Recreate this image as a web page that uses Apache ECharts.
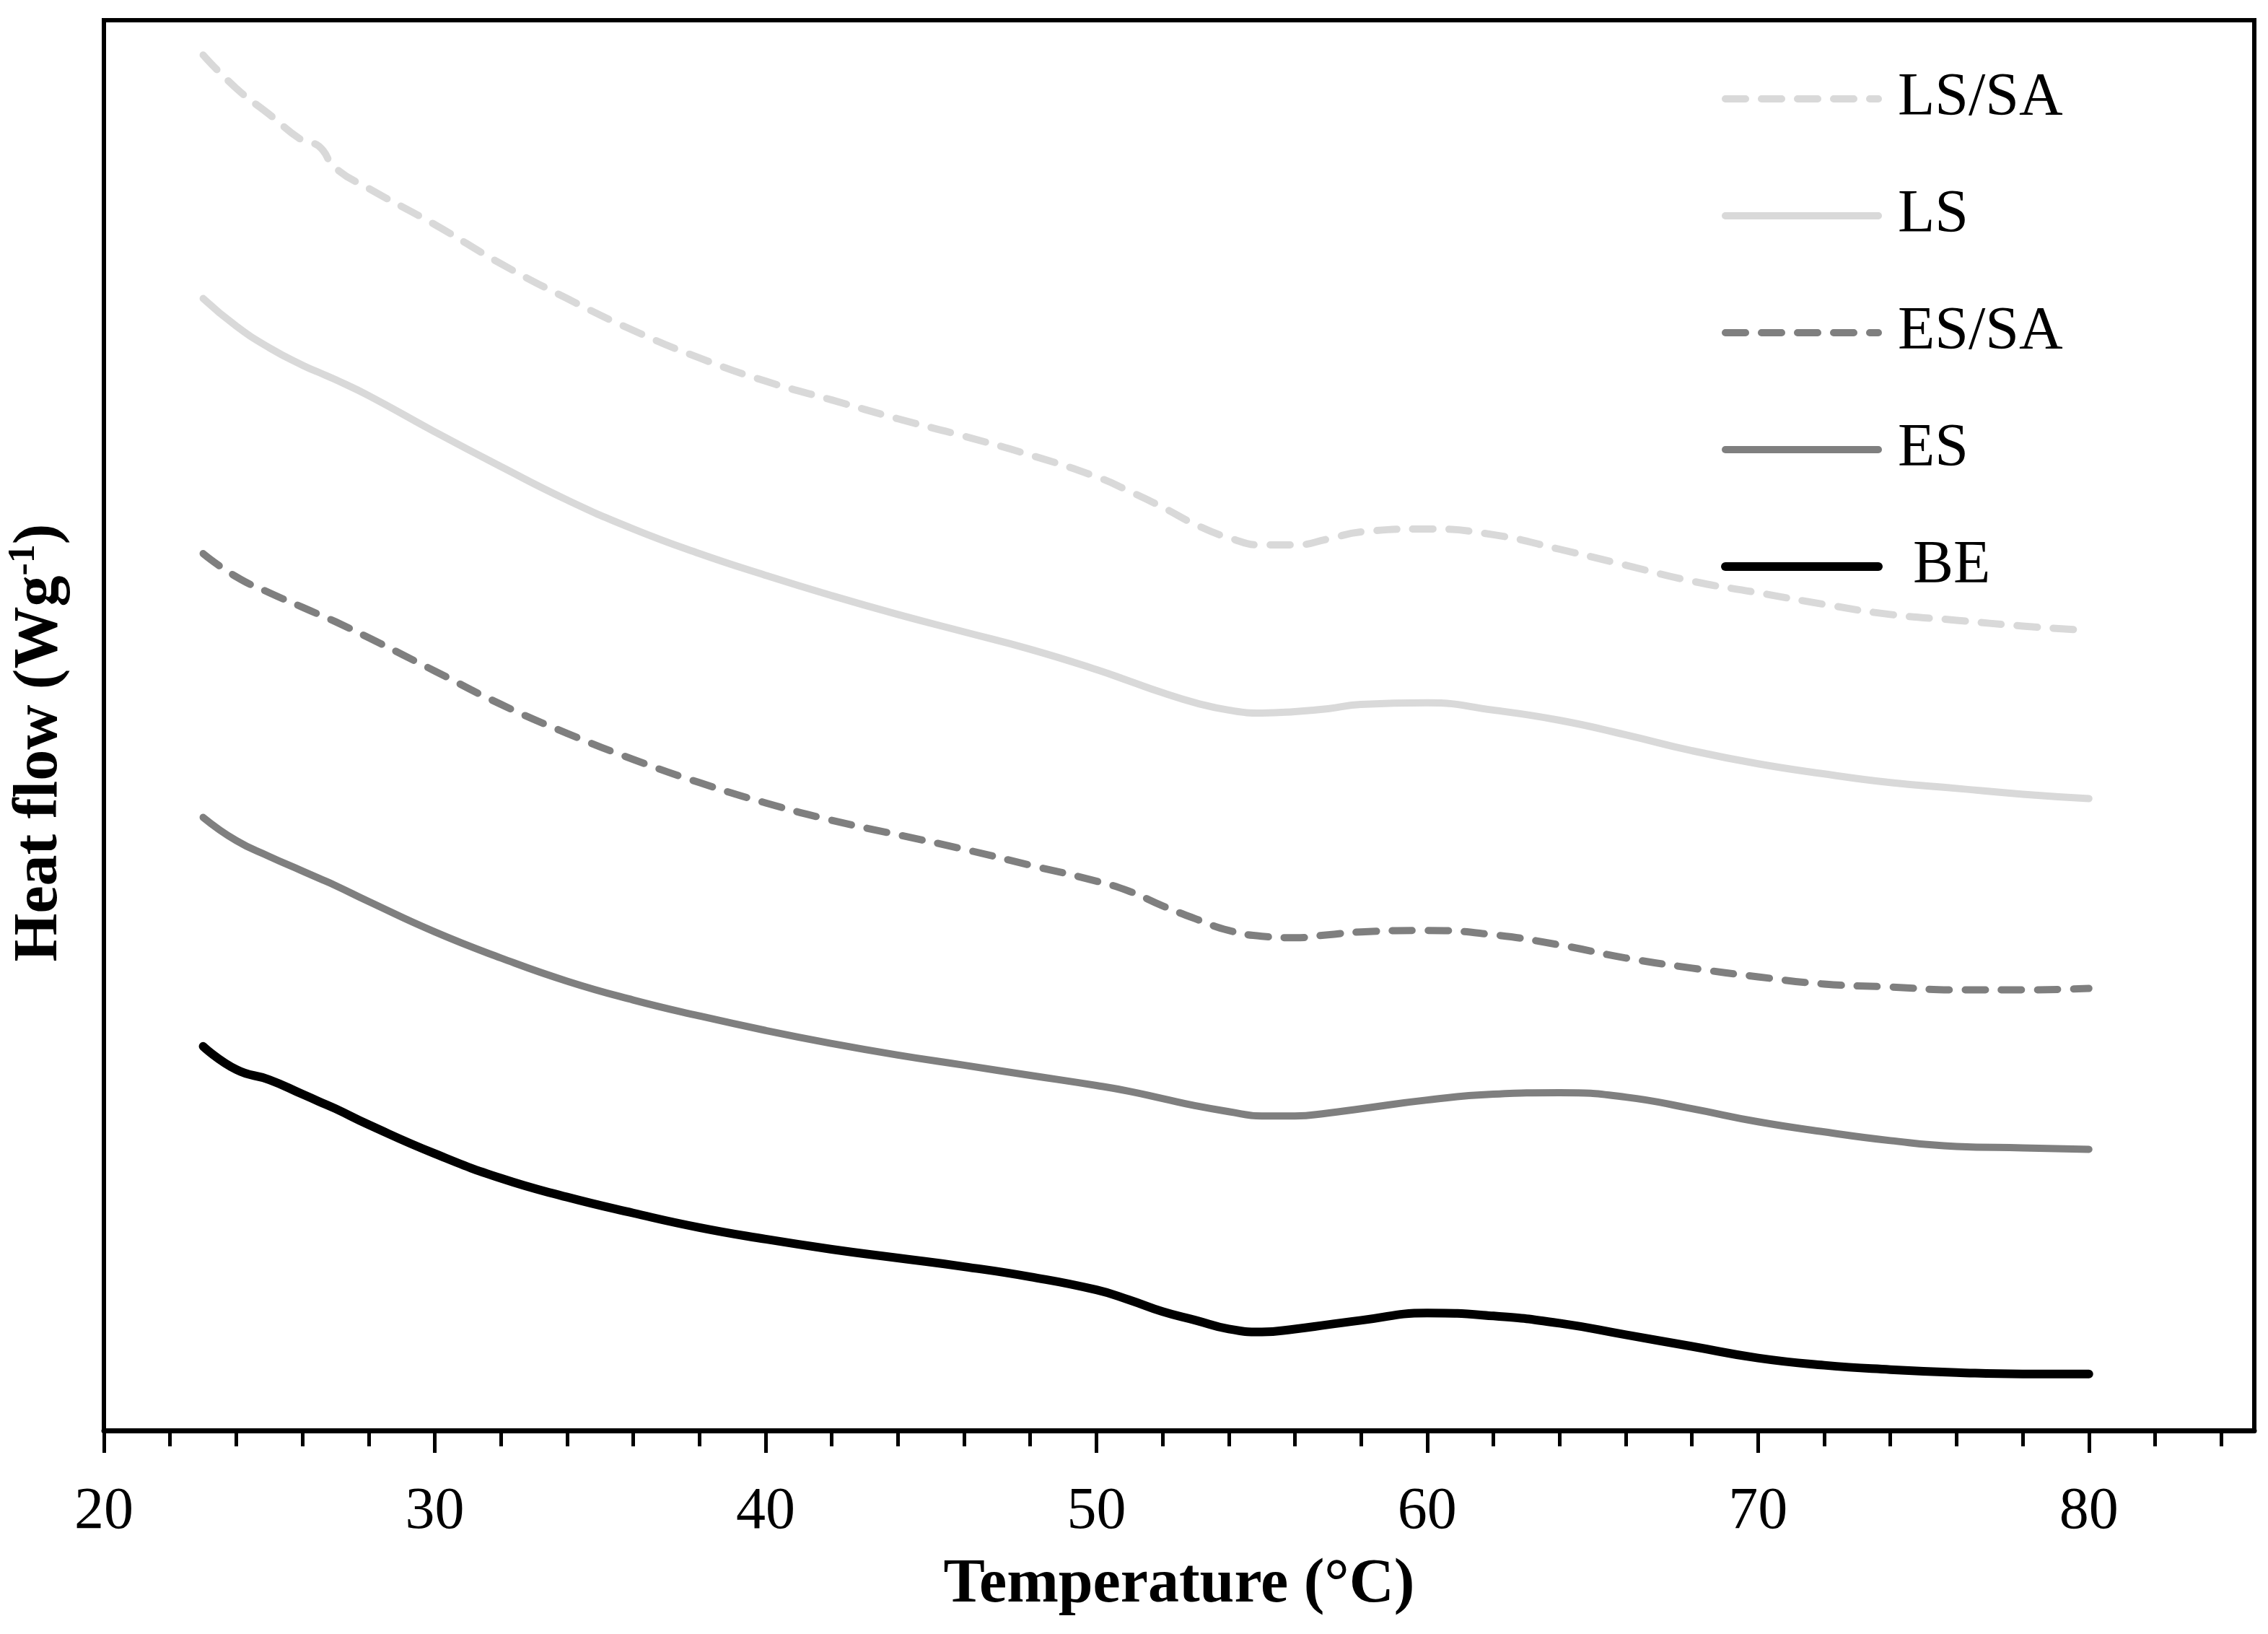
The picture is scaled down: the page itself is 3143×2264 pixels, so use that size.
<!DOCTYPE html>
<html>
<head>
<meta charset="utf-8">
<script src="https://cdn.jsdelivr.net/npm/echarts@6/dist/echarts.min.js"></script>
<style>
html,body{margin:0;padding:0;background:#fff;}
#chart{width:3143px;height:2264px;}
</style>
</head>
<body>
<div id="chart"></div>
<script>
// Temperature (°C) sample points shared by all curves
const temps = [23,24,25,26,26.5,27,28,30,32,34,36,38,40,42,44,46,48,50,51,52,53,54,55,56,57,58,60,62,64,66,68,70,72,74,76,78,80];
// Heat flow (arbitrary offset units)
const lsSa = [9.49,9.26,9.08,8.90,8.86,8.71,8.57,8.32,8.05,7.81,7.59,7.40,7.24,7.11,6.98,6.86,6.73,6.58,6.48,6.37,6.25,6.16,6.11,6.11,6.15,6.20,6.22,6.18,6.08,5.97,5.86,5.78,5.70,5.63,5.59,5.55,5.52];
const ls = [7.81,7.62,7.47,7.35,7.30,7.25,7.14,6.89,6.65,6.42,6.22,6.05,5.90,5.76,5.63,5.51,5.39,5.25,5.17,5.09,5.02,4.97,4.95,4.96,4.98,5.01,5.02,4.97,4.90,4.80,4.69,4.60,4.53,4.47,4.43,4.39,4.36];
const esSa = [6.05,5.89,5.78,5.68,5.63,5.58,5.47,5.24,5.01,4.81,4.63,4.47,4.33,4.21,4.11,4.01,3.90,3.79,3.72,3.62,3.53,3.45,3.41,3.40,3.42,3.44,3.45,3.42,3.35,3.26,3.19,3.13,3.08,3.06,3.04,3.04,3.05];
const es = [4.23,4.07,3.96,3.86,3.81,3.76,3.65,3.44,3.26,3.10,2.97,2.86,2.76,2.67,2.59,2.52,2.45,2.38,2.34,2.29,2.24,2.20,2.17,2.17,2.19,2.22,2.28,2.32,2.33,2.30,2.22,2.13,2.06,2.00,1.96,1.95,1.94];
const be = [2.65,2.49,2.42,2.32,2.27,2.22,2.11,1.91,1.74,1.61,1.50,1.40,1.32,1.25,1.19,1.13,1.06,0.97,0.90,0.82,0.76,0.70,0.68,0.70,0.73,0.76,0.81,0.79,0.74,0.66,0.58,0.50,0.45,0.42,0.40,0.39,0.39];
const seriesNames = ['LS/SA','LS','ES/SA','ES','BE'];
const majorTicks = [20,30,40,50,60,70,80];
const minorTicks = [22,24,26,28,32,34,36,38,42,44,46,48,52,54,56,58,62,64,66,68,72,74,76,78,82,84];

const FONT = 'Liberation Serif';
const chart = echarts.init(document.getElementById('chart'), null, {renderer:'canvas'});
const pts = arr => temps.map((t,i)=>[t, arr[i]]);
const dash = [28,22];
function mk(name, arr, color, width, dashed){
  return {
    name, type:'line', data: pts(arr), xAxisIndex:0, yAxisIndex:0,
    symbol:'none', smooth:0.5, animation:false,
    lineStyle:{color, width, type: dashed ? dash : 'solid', cap:'round', join:'round'},
    itemStyle:{color}
  };
}
const option = {
  backgroundColor:'#fff',
  animation:false,
  grid:{left:136, right:19, top:28, bottom:282, show:true, borderColor:'#000', borderWidth:6, containLabel:false},
  legend:{
    orient:'vertical', left:2380, top:90,
    itemWidth:212, itemHeight:2, itemGap:78,
    data: seriesNames.map(n => ({name:n, lineStyle:{width: n==='BE'?12:10}})),
    formatter: n => n==='BE' ? ' BE' : n,
    textStyle:{fontFamily:FONT, fontSize:84, color:'#000', lineHeight:84, padding:[0,0,0,22]},
    lineStyle:{width:10, type:'inherit', cap:'round'},
    itemStyle:{opacity:0},
    selectedMode:false
  },
  xAxis:[{
    type:'value', min:20, max:85, gridIndex:0, position:'bottom',
    name:'Temperature (°C)', nameLocation:'middle', nameGap:172,
    nameTextStyle:{fontFamily:FONT, fontSize:86, fontWeight:'bold', color:'#000'},
    axisLine:{show:true, lineStyle:{color:'#000', width:7}},
    axisTick:{show:true, inside:false, length:31, customValues:majorTicks, lineStyle:{color:'#000', width:5}},
    axisLabel:{show:true, margin:72, customValues:majorTicks, fontFamily:FONT, fontSize:82, color:'#000'},
    splitLine:{show:false}
  },{
    type:'value', min:20, max:85, gridIndex:0, position:'bottom',
    axisLine:{show:false},
    axisTick:{show:true, inside:false, length:22, customValues:minorTicks, lineStyle:{color:'#000', width:5}},
    axisLabel:{show:false},
    splitLine:{show:false}
  }],
  yAxis:{
    type:'value', min:0, max:9.73, gridIndex:0,
    name:'{b|Heat flow (Wg}{s|-1}{b|)}', nameLocation:'middle', nameGap:40,
    nameTextStyle:{
      padding:[0,48,0,0],
      rich:{
        b:{fontFamily:FONT, fontSize:86, fontWeight:'bold', color:'#000', lineHeight:96},
        s:{fontFamily:FONT, fontSize:52, fontWeight:'bold', color:'#000', verticalAlign:'top', lineHeight:96, padding:[0,0,38,0]}
      }
    },
    axisLine:{show:false}, axisTick:{show:false}, axisLabel:{show:false}, splitLine:{show:false}
  },
  series:[
    mk('LS/SA', lsSa, '#d9d9d9', 10, true),
    mk('LS', ls, '#d9d9d9', 10, false),
    mk('ES/SA', esSa, '#7f7f7f', 10, true),
    mk('ES', es, '#7f7f7f', 10, false),
    mk('BE', be, '#000000', 12, false)
  ]
};
chart.setOption(option);
</script>
</body>
</html>
